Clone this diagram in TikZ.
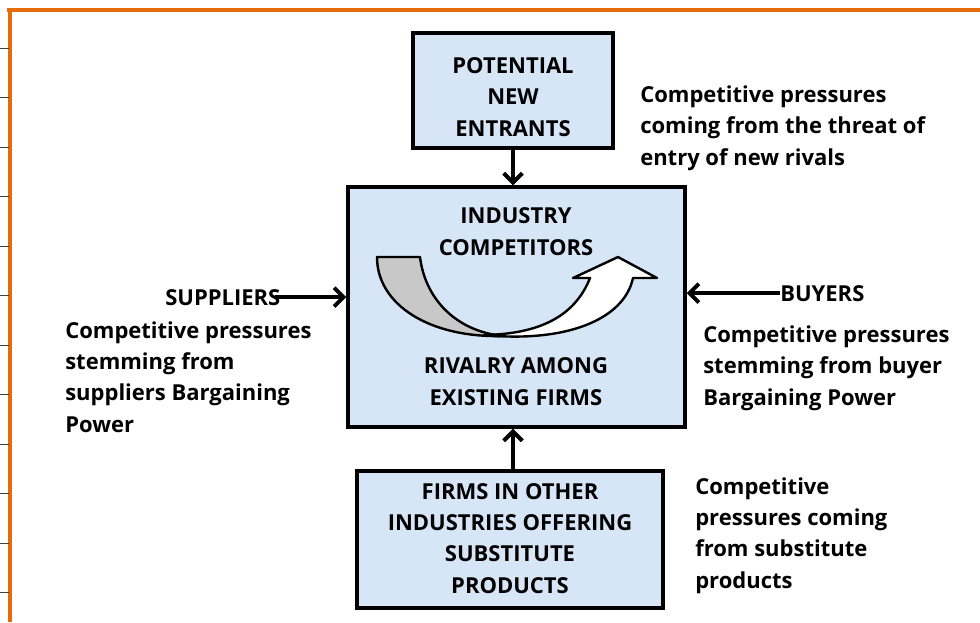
\documentclass[tikz,border=0pt]{standalone}
\usepackage{fontspec}
\setmainfont{Open Sans}
\usepackage{tikz}
\usetikzlibrary{arrows.meta,positioning}

\definecolor{boxblue}{RGB}{214,230,246}
\definecolor{frameorange}{RGB}{228,108,10}
\definecolor{foldgray}{RGB}{200,200,200}

\begin{document}
\begin{tikzpicture}[x=0.75pt,y=-0.75pt,>={Straight Barb[length=7pt,width=14pt]},
    every node/.style={font=\bfseries\fontsize{16.5}{23.5}\selectfont},
    force box/.style={draw,line width=2.5pt,fill=boxblue,align=center,inner sep=0pt,anchor=base},
    force arrow/.style={->,line width=3pt},
    note/.style={align=left,inner sep=0pt,anchor=base west}]

  \useasboundingbox (0,0) rectangle (980,622);

  % frame of the page
  \draw[frameorange,line width=3pt] (7,10) -- (980,10);
  \draw[frameorange,line width=3pt] (10,10) -- (10,622);
  \foreach \y in {48,97.5,...,600}
    \draw[black!75,line width=0.7pt] (0,\y) -- (8.5,\y);

  % the five forces (anchored at the last base line)
  \node[force box,minimum width=150pt,text height=77.25pt,text depth=9pt] (entrants) at (513,136)
    {POTENTIAL\\NEW\\ENTRANTS};
  \node[force box,minimum width=252.75pt,minimum height=180pt,anchor=center] (industry) at (516.5,307) {};
  \node[force box,minimum width=229.5pt,text height=91.5pt,text depth=11.25pt] (subst) at (510,593)
    {FIRMS IN OTHER\\INDUSTRIES OFFERING\\SUBSTITUTE\\PRODUCTS};

  \node[align=center,inner sep=0pt,anchor=base] (rivals) at (516,255) {INDUSTRY\\COMPETITORS};
  \node[align=center,inner sep=0pt,anchor=base] (rivalry) at (516,405) {RIVALRY AMONG\\EXISTING FIRMS};

  \node[inner sep=0pt,anchor=base west] (suppliers) at (165,305) {SUPPLIERS};
  \node[inner sep=0pt,anchor=base west] (buyers) at (780,301) {BUYERS};

  % notes
  \node[note] (entrynote) at (640,165) {Competitive pressures\\coming from the threat of\\entry of new rivals};
  \node[note] (suppnote) at (65,432) {Competitive pressures\\stemming from\\suppliers Bargaining\\Power};
  \node[note] (buynote) at (703,405) {Competitive pressures\\stemming from buyer\\Bargaining Power};
  \node[note] (substnote) at (695,588) {Competitive\\pressures coming\\from substitute\\products};

  % rivalry arrow
  \draw[line width=1.8pt,fill=foldgray,line join=round] (377,257) -- (420,257)
    .. controls (425,298) and (455,331) .. (503,336)
    .. controls (430,338) and (377,305) .. cycle;
  \draw[line width=1.8pt,fill=white,line join=round] (484,335)
    .. controls (565,343) and (624,320) .. (633,278) -- (657,278) -- (618,257)
    -- (573,278) -- (590,278) .. controls (575,316) and (540,334) .. cycle;

  % forces acting on the industry
  \draw[force arrow] (entrants.south) -- (entrants.south |- industry.north);
  \draw[force arrow] (subst.north -| entrants.south) -- (entrants.south |- industry.south);
  \draw[force arrow] ([xshift=-4pt]suppliers.east) -- (industry.west |- suppliers.east);
  \draw[force arrow] (buyers.west) -- (industry.east |- buyers.west);
\end{tikzpicture}
\end{document}
